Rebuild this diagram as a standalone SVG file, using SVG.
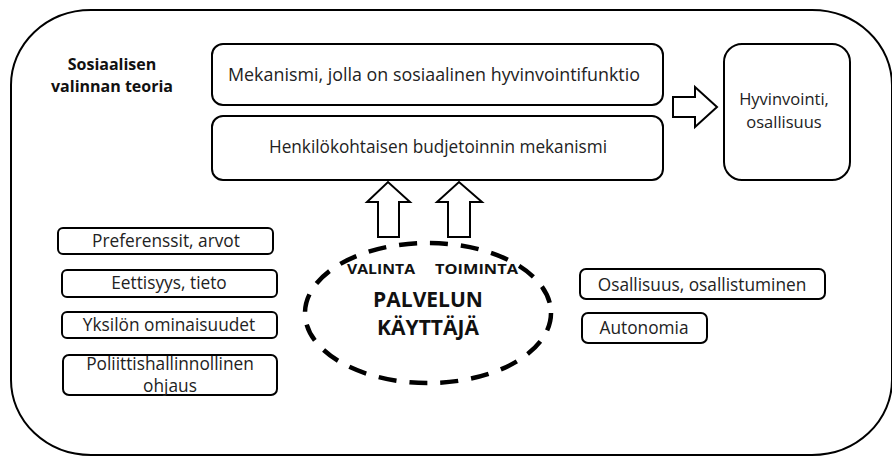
<svg xmlns="http://www.w3.org/2000/svg" width="892" height="457" viewBox="0 0 892 457">
<style>
.box{fill:#fff;stroke:#000;stroke-width:2}
.t{font-family:"Open Sans","Liberation Sans",sans-serif;font-size:17.3px;fill:#222;text-anchor:middle}
.b{font-family:"Open Sans","Liberation Sans",sans-serif;font-weight:bold;fill:#111;text-anchor:middle}
.arrow{fill:#fff;stroke:#000;stroke-width:2;stroke-linejoin:miter}
</style>
<rect width="892" height="457" fill="#fff"/>
<g id="frame">
<rect x="11" y="10" width="881" height="445" rx="80" ry="75" fill="none" stroke="#000" stroke-width="2"/>
<text class="b" x="112" y="70" font-size="16">Sosiaalisen</text>
<text class="b" x="112" y="92" font-size="16">valinnan teoria</text>
</g>
<g id="mekanismi">
<rect class="box" x="212" y="44" width="451" height="61" rx="11"/>
<text class="t" x="434" y="81" textLength="412" lengthAdjust="spacingAndGlyphs">Mekanismi, jolla on sosiaalinen hyvinvointifunktio</text>
</g>
<g id="budjetointi">
<rect class="box" x="212" y="116" width="451" height="64" rx="11"/>
<text class="t" x="438" y="153" textLength="338" lengthAdjust="spacingAndGlyphs">Henkilökohtaisen budjetoinnin mekanismi</text>
</g>
<g id="hyvinvointi">
<rect class="box" x="724" y="44" width="126" height="136" rx="18"/>
<text class="t" x="784" y="105" style="font-size:16.5px">Hyvinvointi,</text>
<text class="t" x="784" y="128" style="font-size:16.5px">osallisuus</text>
</g>
<g id="preferenssit">
<rect class="box" x="58" y="228" width="215" height="26" rx="5"/>
<text class="t" x="166" y="247">Preferenssit, arvot</text>
</g>
<g id="eettisyys">
<rect class="box" x="62" y="270" width="215" height="27" rx="5"/>
<text class="t" x="169" y="289">Eettisyys, tieto</text>
</g>
<g id="yksilon">
<rect class="box" x="62" y="312" width="215" height="26" rx="5"/>
<text class="t" x="169" y="331">Yksilön ominaisuudet</text>
</g>
<g id="poliittis">
<rect class="box" x="63" y="355" width="214" height="40" rx="6"/>
<text class="t" x="170" y="370">Poliittishallinnollinen</text>
<text class="t" x="170" y="392">ohjaus</text>
</g>
<g id="osallisuus">
<rect class="box" x="580" y="269" width="245" height="30" rx="6"/>
<text class="t" x="702" y="291">Osallisuus, osallistuminen</text>
</g>
<g id="autonomia">
<rect class="box" x="582" y="313" width="125" height="30" rx="6"/>
<text class="t" x="644" y="334">Autonomia</text>
</g>
<g id="kayttaja">
<ellipse cx="428" cy="313" rx="123" ry="70" fill="none" stroke="#000" stroke-width="4.5" stroke-dasharray="18 13"/>
<text class="b" x="381" y="274" font-size="14" textLength="68" lengthAdjust="spacingAndGlyphs">VALINTA</text>
<text class="b" x="476.5" y="274" font-size="14" textLength="83" lengthAdjust="spacingAndGlyphs">TOIMINTA</text>
<text class="b" x="428" y="307" font-size="21">PALVELUN</text>
<text class="b" x="428" y="335" font-size="21">KÄYTTÄJÄ</text>
</g>
<g id="connectors">
<polygon class="arrow" points="673,97 695,97 695,87 717,107 695,127 695,117 673,117"/>
<polygon class="arrow" points="378,237 378,202 367,202 388,182 410,202 399,202 399,237"/>
<polygon class="arrow" points="448,237 448,202 437,202 459,182 482,202 470,202 470,237"/>
</g>
</svg>
